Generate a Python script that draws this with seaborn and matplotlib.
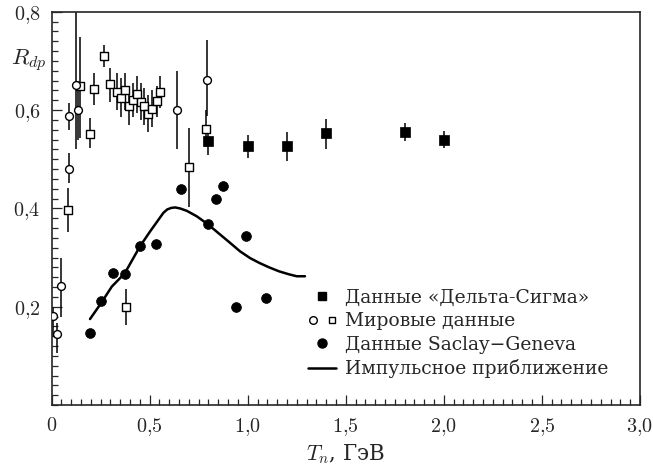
import matplotlib
matplotlib.use("Agg")
import matplotlib.pyplot as plt
import matplotlib.transforms as mtransforms
from matplotlib.lines import Line2D
from matplotlib.legend_handler import HandlerTuple
from matplotlib.ticker import MultipleLocator, FixedLocator
import numpy as np
import seaborn as sns

# %% DATOS
# mirovye dannye - kruzhki
wc_x = [0.009, 0.030, 0.050, 0.089, 0.091, 0.123, 0.137, 0.638, 0.794]
wc_y = [0.182, 0.144, 0.242, 0.588, 0.480, 0.652, 0.601, 0.600, 0.661]
wc_lo = [0.139, 0.106, 0.180, 0.559, 0.452, 0.520, 0.540, 0.520, 0.587]
wc_hi = [0.200, 0.167, 0.300, 0.614, 0.513, 0.850, 0.660, 0.680, 0.742]

# mirovye dannye - kvadraty
ws_x = [0.084, 0.145, 0.195, 0.218, 0.266, 0.298, 0.332, 0.354, 0.375, 0.395, 0.417,
        0.437, 0.455, 0.473, 0.493, 0.514, 0.536, 0.553, 0.380, 0.702, 0.787]
ws_y = [0.397, 0.650, 0.551, 0.642, 0.711, 0.654, 0.637, 0.625, 0.640, 0.609, 0.620,
        0.633, 0.617, 0.608, 0.592, 0.603, 0.618, 0.637, 0.200, 0.485, 0.561]
ws_lo = [0.352, 0.543, 0.523, 0.610, 0.688, 0.617, 0.600, 0.585, 0.600, 0.570, 0.585,
         0.595, 0.580, 0.570, 0.555, 0.565, 0.585, 0.605, 0.163, 0.403, 0.525]
ws_hi = [0.441, 0.749, 0.584, 0.675, 0.732, 0.685, 0.675, 0.665, 0.675, 0.645, 0.655,
         0.670, 0.655, 0.645, 0.630, 0.640, 0.650, 0.670, 0.237, 0.563, 0.600]

# Delta-Sigma
ds_x = [0.80, 1.00, 1.20, 1.40, 1.80, 2.00]
ds_y = [0.538, 0.526, 0.527, 0.553, 0.555, 0.540]
ds_lo = [0.508, 0.502, 0.496, 0.520, 0.537, 0.522]
ds_hi = [0.553, 0.549, 0.556, 0.581, 0.573, 0.557]

# Saclay-Geneva
sg_x = [0.196, 0.252, 0.315, 0.375, 0.451, 0.532, 0.659, 0.795, 0.840, 0.872, 0.938, 0.993, 1.093]
sg_y = [0.147, 0.212, 0.269, 0.267, 0.323, 0.328, 0.440, 0.368, 0.420, 0.445, 0.200, 0.344, 0.217]

# impulsnoe priblizhenie
curva_x = [0.196, 0.252, 0.307, 0.373, 0.451, 0.502, 0.545, 0.570, 0.590, 0.610, 0.630,
           0.655, 0.690, 0.740, 0.796, 0.850, 0.910, 0.960, 1.012, 1.060, 1.110,
           1.160, 1.210, 1.250, 1.292]
curva_y = [0.175, 0.207, 0.241, 0.268, 0.323, 0.353, 0.377, 0.391, 0.398, 0.401, 0.402,
           0.400, 0.395, 0.384, 0.368, 0.350, 0.330, 0.313, 0.299, 0.289, 0.280,
           0.272, 0.266, 0.262, 0.262]

xticks = [0, 0.5, 1.0, 1.5, 2.0, 2.5, 3.0]
xtick_labels = ["$0$", "$0{,}5$", "$1{,}0$", "$1{,}5$", "$2{,}0$", "$2{,}5$", "$3{,}0$"]
yticks = [0.2, 0.4, 0.6, 0.8]
ytick_labels = ["$0{,}2$", "$0{,}4$", "$0{,}6$", "$0{,}8$"]

etiquetas = ["Данные «Дельта-Сигма»", "Мировые данные",
             "Данные Saclay\u2212Geneva", "Импульсное приближение"]

# %% GRAFICO
sns.set_style("ticks")
plt.rcParams['font.family'] = ['DejaVu Serif']
plt.rcParams['mathtext.fontset'] = 'cm'

fig, ax = plt.subplots(figsize=(6.53, 4.71), dpi=100)
fig.subplots_adjust(left=0.079, right=0.980, top=0.975, bottom=0.14)


def barras(x, y, lo, hi):
    x = np.array(x); y = np.array(y)
    ax.errorbar(x, y, yerr=[y - np.array(lo), np.array(hi) - y], fmt='none',
                ecolor='black', elinewidth=1.1, capsize=0, zorder=2)


barras(wc_x, wc_y, wc_lo, wc_hi)
barras(ws_x, ws_y, ws_lo, ws_hi)
barras(ds_x, ds_y, ds_lo, ds_hi)

sns.lineplot(x=curva_x, y=curva_y, sort=False, estimator=None, color='black',
             linewidth=1.8, ax=ax, zorder=2)

sns.scatterplot(x=ws_x, y=ws_y, marker='s', s=30, color='white', edgecolor='black',
                linewidth=1.0, ax=ax, zorder=3)
sns.scatterplot(x=wc_x, y=wc_y, marker='o', s=32, color='white', edgecolor='black',
                linewidth=1.0, ax=ax, zorder=4)
sns.scatterplot(x=ds_x, y=ds_y, marker='s', s=42, color='black', edgecolor='black',
                linewidth=0.5, ax=ax, zorder=4)
sns.scatterplot(x=sg_x, y=sg_y, marker='o', s=50, color='black', edgecolor='black',
                linewidth=0.5, ax=ax, zorder=4)

ax.set_xlim(0, 3.0)
ax.set_ylim(0, 0.8)
ax.xaxis.set_major_locator(FixedLocator(xticks))
ax.set_xticklabels(xtick_labels, fontsize=14.5)
ax.xaxis.set_minor_locator(MultipleLocator(0.05))
ax.yaxis.set_major_locator(FixedLocator(yticks))
ax.set_yticklabels(ytick_labels, fontsize=14.5)
ax.yaxis.set_minor_locator(MultipleLocator(0.02))
ax.tick_params(which='major', direction='in', length=7, width=0.9, pad=8)
ax.tick_params(which='minor', direction='in', length=4, width=0.9)
for s in ax.spines.values():
    s.set_visible(True)
    s.set_linewidth(1.2)

ax.set_xlabel("$T_n$, ГэВ", fontsize=15.5, labelpad=3)
ax.set_ylabel("")
trans = mtransforms.blended_transform_factory(ax.transAxes, ax.transData)
ax.text(-0.008, 0.70, "$R_{dp}$", transform=trans, ha='right', va='center', fontsize=16.5)

# leyenda
h_ds = Line2D([], [], ls='none', marker='s', ms=6, mfc='black', mec='black')
h_wc = Line2D([], [], ls='none', marker='o', ms=5.5, mfc='white', mec='black')
h_ws = Line2D([], [], ls='none', marker='s', ms=5, mfc='white', mec='black')
h_sg = Line2D([], [], ls='none', marker='o', ms=6.5, mfc='black', mec='black')
h_cu = Line2D([], [], color='black', lw=1.8)
ax.legend([h_ds, (h_wc, h_ws), h_sg, h_cu], etiquetas,
          handler_map={tuple: HandlerTuple(ndivide=None, pad=0.5)},
          loc='upper left', bbox_to_anchor=(0.42, 0.32), frameon=False,
          fontsize=13.5, handlelength=1.5, handletextpad=0.45, labelspacing=0.3,
          borderpad=0)

fig.savefig("out.png", dpi=100)
